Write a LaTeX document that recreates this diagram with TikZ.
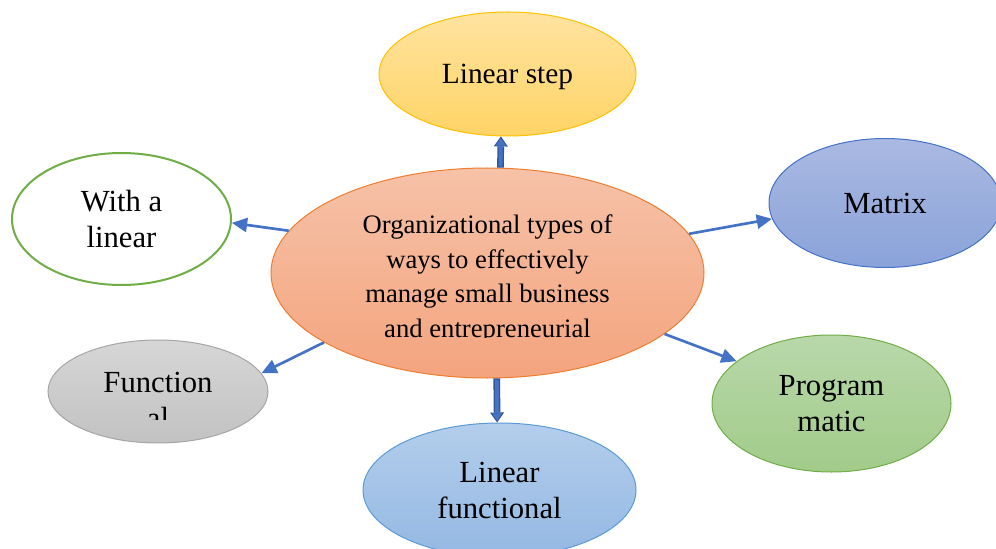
\documentclass[tikz,border=0pt]{standalone}
\usepackage{fontspec}
\setmainfont{Liberation Serif}
\usetikzlibrary{shapes.geometric,arrows.meta}

\definecolor{orgline}{HTML}{ED7D31}
\definecolor{orgtop}{HTML}{F6C2A8}
\definecolor{orgbot}{HTML}{F4A47E}
\definecolor{stepline}{HTML}{FFC000}
\definecolor{steptop}{HTML}{FFE3A0}
\definecolor{stepbot}{HTML}{FFD466}
\definecolor{matline}{HTML}{4472C4}
\definecolor{mattop}{HTML}{AAB9E2}
\definecolor{matbot}{HTML}{8AA3D9}
\definecolor{grnline}{HTML}{70AD47}
\definecolor{progtop}{HTML}{B8D8AA}
\definecolor{progbot}{HTML}{A2CB8A}
\definecolor{funline}{HTML}{A5A5A5}
\definecolor{funtop}{HTML}{D6D6D6}
\definecolor{funbot}{HTML}{C2C2C2}
\definecolor{lfline}{HTML}{5B9BD5}
\definecolor{lftop}{HTML}{B3CEEB}
\definecolor{lfbot}{HTML}{94B8E3}
\definecolor{arrblue}{HTML}{4472C4}
\definecolor{arrdark}{HTML}{2F5597}

\begin{document}
\begin{tikzpicture}[x=0.75pt,y=0.75pt,yscale=-1,xscale=1,
  bubble/.style={ellipse,inner sep=0pt,line width=0.75pt,align=center,font=\fontsize{23}{27}\selectfont},
  arr/.style={draw=arrblue,line width=2pt,-{Triangle[length=11.5pt,width=10.5pt]}},
  blockout/.style={draw=arrdark,line width=5pt,-{Triangle[length=7.5pt,width=10.5pt,line width=0pt]}},
  blockin/.style={draw=arrblue,line width=3pt,shorten >=1.3pt,shorten <=0.9pt,-{Triangle[length=5.5pt,width=7.5pt,line width=0pt]}}]
\useasboundingbox (0,0) rectangle (996,549);

%Shape: Ellipse [id:dp3318] 
\node (org) at (487.5,273) [bubble,draw=orgline,top color=orgtop,bottom color=orgbot,minimum width=324.75pt,minimum height=157.5pt] {};
%Shape: Ellipse [id:dp5120] 
\node (step) at (507.5,74) [bubble,draw=stepline,top color=steptop,bottom color=stepbot,minimum width=192.75pt,minimum height=93pt,text depth=0pt,font=\fontsize{22}{27}\selectfont] {Linear step};
%Shape: Ellipse [id:dp7741] 
\node (matrix) at (885,203) [bubble,draw=matline,top color=mattop,bottom color=matbot,minimum width=174pt,minimum height=96.75pt] {Matrix};
%Shape: Ellipse [id:dp2096] 
\node (withlin) at (121.5,219) [bubble,draw=grnline,line width=1.5pt,fill=white,minimum width=164.25pt,minimum height=99pt] {With a\\linear};
%Shape: Ellipse [id:dp6652] 
\node (func) at (158,391.5) [bubble,draw=funline,top color=funtop,bottom color=funbot,minimum width=165pt,minimum height=77.25pt] {};
%Shape: Ellipse [id:dp4408] 
\node (prog) at (831.5,403.5) [bubble,draw=grnline,top color=progtop,bottom color=progbot,minimum width=179.25pt,minimum height=102.75pt] {Program\\matic};
%Shape: Ellipse [id:dp9183] 
\node (linfun) at (499.5,490) [bubble,draw=lfline,top color=lftop,bottom color=lfbot,minimum width=204.75pt,minimum height=100.5pt] {Linear\\functional};

% Text Node
\begin{scope}
\clip (270,160) rectangle (705,337);
\node (orgtxt) at (487.5,279) [inner sep=0pt,align=center,font=\fontsize{20}{26}\selectfont] {Organizational types of\\ways to effectively\\manage small business\\and entrepreneurial};
\end{scope}
% Text Node
\begin{scope}
\clip (40,330) rectangle (280,419);
\node (functxt) at (158,400.5) [inner sep=0pt,align=center,font=\fontsize{23}{27}\selectfont] {Function\\al};
\end{scope}

%Straight Lines [id:da1175] 
\draw[arr] (org.168) -- (withlin.-2);
%Straight Lines [id:da8032] 
\draw[arr] (org.11) -- (matrix.188);
%Straight Lines [id:da4469] 
\draw[arr] (org.203) -- (func.10);
%Straight Lines [id:da2957] 
\draw[arr] (org.341) -- (prog.156);
%Up Arrow [id:dp0614] 
\draw[blockout] (org.83) -- (step.264);
\draw[blockin] (org.83) -- (step.264);
%Down Arrow [id:dp3870] 
\draw[blockout] (org.275) -- (linfun.92);
\draw[blockin] (org.275) -- (linfun.92);

\end{tikzpicture}
\end{document}
